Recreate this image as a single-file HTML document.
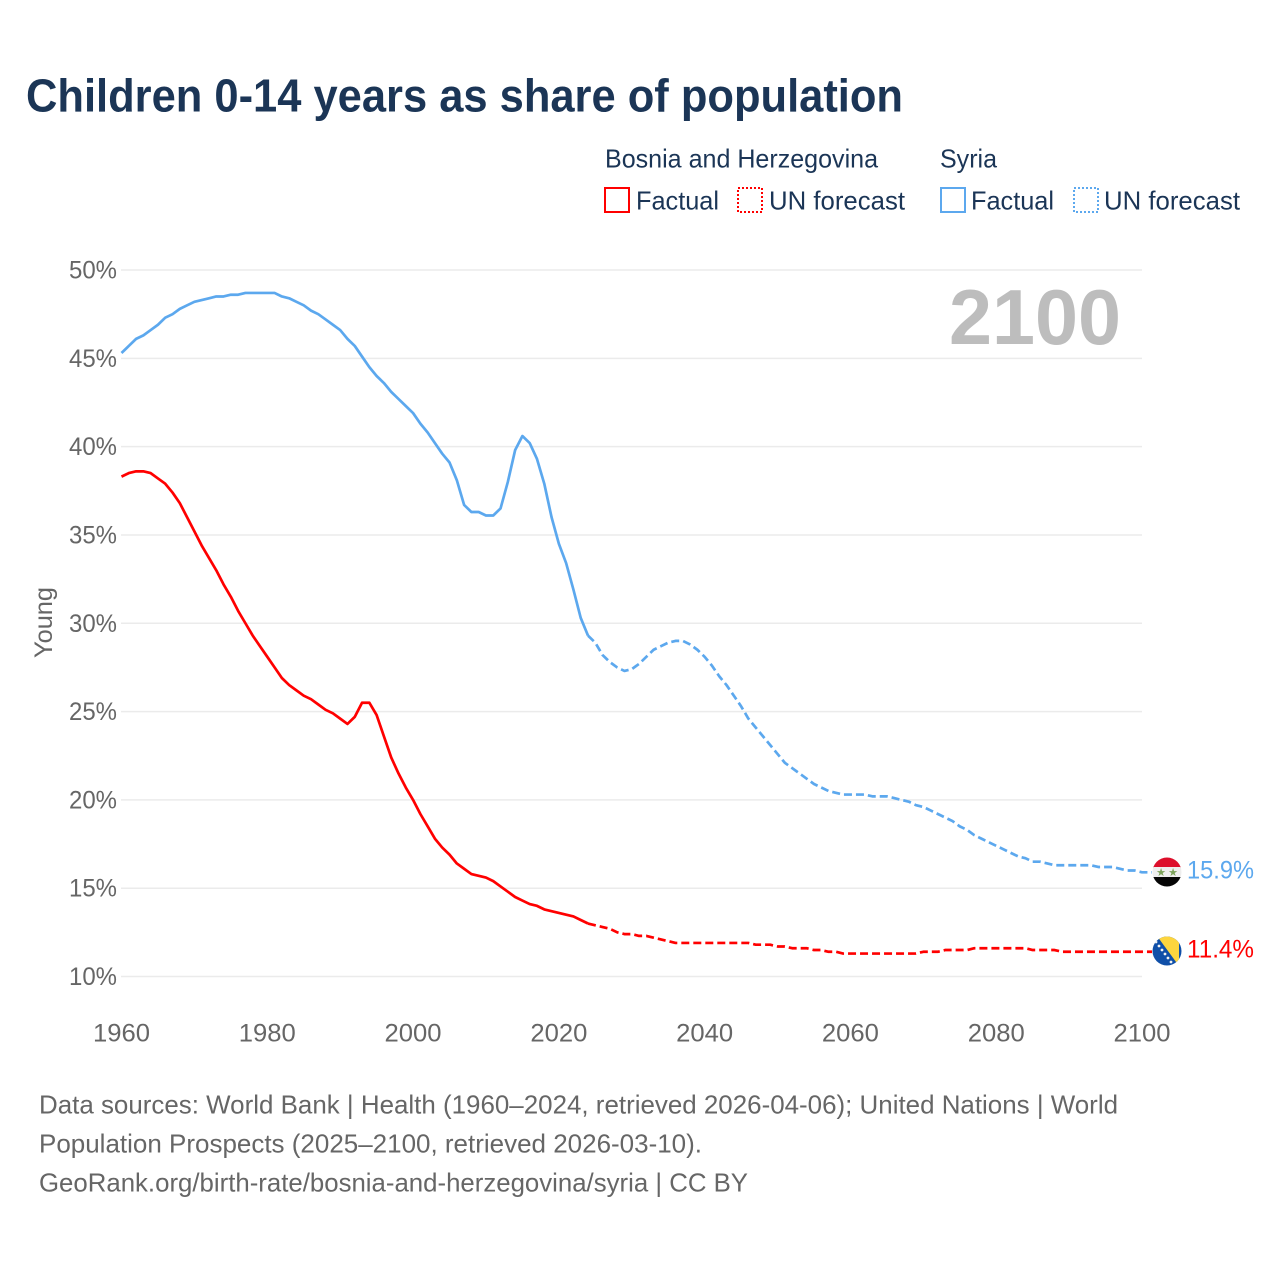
<!DOCTYPE html>
<html lang="en">
<head>
<meta charset="utf-8">
<title>Children 0-14 years as share of population</title>
<style>
html,body{margin:0;padding:0;background:#fff;}
svg{display:block;font-family:"Liberation Sans",sans-serif;}
</style>
</head>
<body>
<svg id="chart" xmlns="http://www.w3.org/2000/svg" width="1280" height="1280" viewBox="0 0 1280 1280">
  <defs>
    <clipPath id="clip-syria"><circle cx="1167" cy="872" r="14.5"/></clipPath>
    <clipPath id="clip-bosnia"><circle cx="1167" cy="951" r="14.5"/></clipPath>
  </defs>
  <rect width="1280" height="1280" fill="#fff"/>
  <text x="26" y="111.5" font-size="46" font-weight="bold" fill="#1b3556" textLength="877" lengthAdjust="spacingAndGlyphs">Children 0-14 years as share of population</text>

  <g>
    <text x="605" y="167.5" font-size="26" fill="#1b3556" textLength="273" lengthAdjust="spacingAndGlyphs">Bosnia and Herzegovina</text>
    <text x="940" y="167.5" font-size="26" fill="#1b3556" textLength="57" lengthAdjust="spacingAndGlyphs">Syria</text>
    <rect x="605" y="188" width="24" height="24" fill="none" stroke="#ff0000" stroke-width="2"/>
    <text x="636" y="209.5" font-size="26" fill="#1b3556" textLength="83" lengthAdjust="spacingAndGlyphs">Factual</text>
    <rect x="738" y="188" width="24" height="24" fill="none" stroke="#ff0000" stroke-width="2" stroke-dasharray="2,2"/>
    <text x="769" y="209.5" font-size="26" fill="#1b3556" textLength="136" lengthAdjust="spacingAndGlyphs">UN forecast</text>
    <rect x="941" y="188" width="24" height="24" fill="none" stroke="#5ca8ee" stroke-width="2"/>
    <text x="971" y="209.5" font-size="26" fill="#1b3556" textLength="83" lengthAdjust="spacingAndGlyphs">Factual</text>
    <rect x="1074" y="188" width="24" height="24" fill="none" stroke="#5ca8ee" stroke-width="2" stroke-dasharray="2,2"/>
    <text x="1104" y="209.5" font-size="26" fill="#1b3556" textLength="136" lengthAdjust="spacingAndGlyphs">UN forecast</text>
  </g>

  <g id="grid"></g>
  <g id="y-ticks"></g>
  <g id="x-ticks"></g>
  <text transform="translate(52,622.5) rotate(-90)" text-anchor="middle" font-size="25" fill="#666" textLength="71" lengthAdjust="spacingAndGlyphs">Young</text>
  <text x="949" y="344" font-size="78" font-weight="bold" fill="#bdbdbd" textLength="172" lengthAdjust="spacingAndGlyphs">2100</text>
  <g id="series"></g>

  <g clip-path="url(#clip-syria)">
    <rect x="1152" y="857" width="30" height="11" fill="#dd0f2b"/>
    <rect x="1152" y="867" width="30" height="10" fill="#eeeeee"/>
    <rect x="1152" y="877" width="30" height="11" fill="#050505"/>
    <text x="1161" y="876" font-size="11" text-anchor="middle" fill="#7ca25a">★</text>
    <text x="1173" y="876" font-size="11" text-anchor="middle" fill="#7ca25a">★</text>
  </g>
  <g clip-path="url(#clip-bosnia)">
    <rect x="1152" y="936" width="30" height="30" fill="#0f4fa8"/>
    <polygon points="1157,936 1179,936 1179,966" fill="#fdd53e"/>
    <g fill="#f2f2f2">
      <circle cx="1156" cy="942" r="1.4"/><circle cx="1159" cy="946" r="1.4"/><circle cx="1162" cy="950" r="1.4"/>
      <circle cx="1165" cy="954" r="1.4"/><circle cx="1168" cy="958" r="1.4"/><circle cx="1171" cy="962" r="1.4"/>
    </g>
  </g>
  <text x="1187" y="878.5" font-size="25" fill="#5ca8ee" textLength="67" lengthAdjust="spacingAndGlyphs">15.9%</text>
  <text x="1187" y="957.5" font-size="25" fill="#ff0000" textLength="67" lengthAdjust="spacingAndGlyphs">11.4%</text>

  <g font-size="26" fill="#666">
    <text x="39" y="1113.5" textLength="1079" lengthAdjust="spacingAndGlyphs">Data sources: World Bank | Health (1960–2024, retrieved 2026-04-06); United Nations | World</text>
    <text x="39" y="1152.5" textLength="663" lengthAdjust="spacingAndGlyphs">Population Prospects (2025–2100, retrieved 2026-03-10).</text>
    <text x="39" y="1191.5" textLength="709" lengthAdjust="spacingAndGlyphs">GeoRank.org/birth-rate/bosnia-and-herzegovina/syria | CC BY</text>
  </g>
</svg>
<script>
const yTicks = [10, 15, 20, 25, 30, 35, 40, 45, 50];
const xTicks = [1960, 1980, 2000, 2020, 2040, 2060, 2080, 2100];
const firstYear = 1960;
const lastFactualYear = 2024;
const syriaValues = [
  45.3,45.7,46.1,46.3,46.6,46.9,47.3,47.5,47.8,48.0,
  48.2,48.3,48.4,48.5,48.5,48.6,48.6,48.7,48.7,48.7,
  48.7,48.7,48.5,48.4,48.2,48.0,47.7,47.5,47.2,46.9,
  46.6,46.1,45.7,45.1,44.5,44.0,43.6,43.1,42.7,42.3,
  41.9,41.3,40.8,40.2,39.6,39.1,38.1,36.7,36.3,36.3,
  36.1,36.1,36.5,38.0,39.8,40.6,40.2,39.3,37.9,36.0,
  34.5,33.4,31.9,30.3,29.3,28.9,28.2,27.8,27.5,27.3,
  27.4,27.7,28.1,28.5,28.7,28.9,29.0,29.0,28.8,28.5,
  28.1,27.6,27.0,26.5,25.9,25.3,24.6,24.1,23.6,23.1,
  22.6,22.1,21.8,21.5,21.2,20.9,20.7,20.5,20.4,20.3,
  20.3,20.3,20.3,20.2,20.2,20.2,20.1,20.0,19.9,19.7,
  19.6,19.4,19.2,19.0,18.8,18.5,18.3,18.0,17.8,17.6,
  17.4,17.2,17.0,16.8,16.7,16.5,16.5,16.4,16.3,16.3,
  16.3,16.3,16.3,16.3,16.2,16.2,16.2,16.1,16.0,16.0,15.9
];
const bosniaValues = [
  38.3,38.5,38.6,38.6,38.5,38.2,37.9,37.4,36.8,36.0,
  35.2,34.4,33.7,33.0,32.2,31.5,30.7,30.0,29.3,28.7,
  28.1,27.5,26.9,26.5,26.2,25.9,25.7,25.4,25.1,24.9,
  24.6,24.3,24.7,25.5,25.5,24.8,23.6,22.4,21.5,20.7,
  20.0,19.2,18.5,17.8,17.3,16.9,16.4,16.1,15.8,15.7,
  15.6,15.4,15.1,14.8,14.5,14.3,14.1,14.0,13.8,13.7,
  13.6,13.5,13.4,13.2,13.0,12.9,12.8,12.7,12.5,12.4,
  12.4,12.3,12.3,12.2,12.1,12.0,11.9,11.9,11.9,11.9,
  11.9,11.9,11.9,11.9,11.9,11.9,11.9,11.8,11.8,11.8,
  11.7,11.7,11.6,11.6,11.6,11.5,11.5,11.4,11.4,11.3,
  11.3,11.3,11.3,11.3,11.3,11.3,11.3,11.3,11.3,11.3,
  11.4,11.4,11.4,11.5,11.5,11.5,11.5,11.6,11.6,11.6,
  11.6,11.6,11.6,11.6,11.6,11.5,11.5,11.5,11.5,11.4,
  11.4,11.4,11.4,11.4,11.4,11.4,11.4,11.4,11.4,11.4,11.4
];

const NS = 'http://www.w3.org/2000/svg';
const xScale = function (year) { return 121.5 + (year - 1960) * (1142 - 121.5) / 140; };
const yScale = function (v) { return 976.5 - (v - 10) * (976.5 - 270) / 40; };

const grid = document.getElementById('grid');
const yGroup = document.getElementById('y-ticks');
const xGroup = document.getElementById('x-ticks');
const seriesGroup = document.getElementById('series');

function make(tag, parent, attrs, content) {
  const el = document.createElementNS(NS, tag);
  Object.keys(attrs).forEach(function (k) { el.setAttribute(k, attrs[k]); });
  if (content !== undefined) el.textContent = content;
  parent.appendChild(el);
  return el;
}

yTicks.forEach(function (t) {
  const y = yScale(t);
  const line = make('line', grid, { x1: 121, x2: 1142, y1: y, y2: y, stroke: '#ebebeb', 'stroke-width': 1.5 });
  
  
  const label = make('text', yGroup, { x: 117, y: y + 8.5, 'text-anchor': 'end', 'font-size': 25, fill: '#666', textLength: 48, lengthAdjust: 'spacingAndGlyphs' }, t + '%');
  
  
});

xTicks.forEach(function (t) {
  const label = make('text', xGroup, { x: xScale(t), y: 1041.5, 'text-anchor': 'middle', 'font-size': 25, fill: '#666', textLength: 57, lengthAdjust: 'spacingAndGlyphs' }, String(t));
  
  
});

function pathFor(values, startIdx, endIdx) {
  const parts = [];
  for (let i = startIdx; i <= endIdx; i++) {
    parts.push((i === startIdx ? 'M' : 'L') + xScale(firstYear + i).toFixed(2) + ' ' + yScale(values[i]).toFixed(2));
  }
  return parts.join(' ');
}

function drawSeries(key, values, color) {
  const split = lastFactualYear - firstYear;
  const last = values.length - 1;
  const solid = make('path', seriesGroup, { d: pathFor(values, 0, split), fill: 'none', stroke: color, 'stroke-width': 2.7, 'stroke-linejoin': 'round' });
  
  
  const dashD = pathFor(values, split, last) + ' L1152 ' + yScale(values[last]).toFixed(2);
  const dashed = make('path', seriesGroup, { d: dashD, fill: 'none', stroke: color, 'stroke-width': 2.7, 'stroke-dasharray': '8,4', 'stroke-linejoin': 'round' });
  
  
}

drawSeries('bosnia', bosniaValues, '#ff0000');
drawSeries('syria', syriaValues, '#5ca8ee');
</script>
</body>
</html>
